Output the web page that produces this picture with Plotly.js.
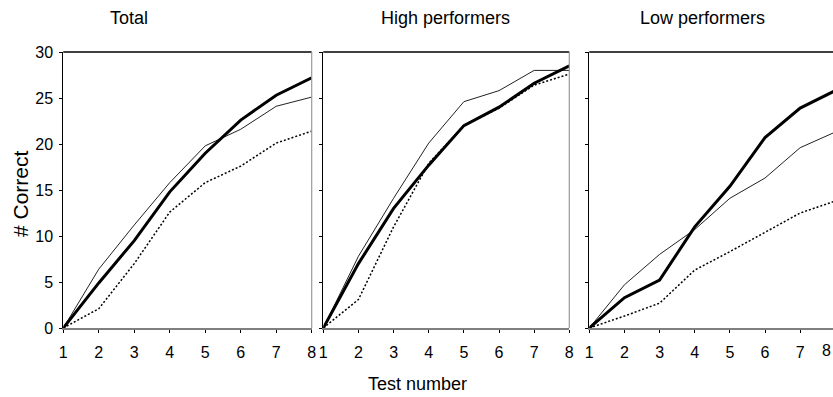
<!DOCTYPE html>
<html>
<head>
<meta charset="utf-8">
<script src="https://cdn.plot.ly/plotly-3.0.1.min.js"></script>
<style>html,body{margin:0;padding:0;background:#fff;}#chart{width:833px;height:397px;}</style>
</head>
<body>
<div id="chart"></div>
<script>
// Data
var testNumbers = [1, 2, 3, 4, 5, 6, 7, 8];
var tickLabels = ['1', '2', '3', '4', '5', '6', '7', '8'];
var yTicks = [0, 5, 10, 15, 20, 25, 30];
var panelTitles = ['Total', 'High performers', 'Low performers'];

var totalThick = [0, 4.9, 9.5, 14.8, 19.0, 22.6, 25.3, 27.2];
var totalThin  = [0, 6.4, 11.2, 15.8, 19.8, 21.6, 24.1, 25.1];
var totalDot   = [0, 2.1, 7.0, 12.6, 15.8, 17.6, 20.1, 21.4];

var highThick = [0, 7.0, 13.0, 17.7, 22.0, 24.0, 26.6, 28.5];
var highThin  = [0, 7.8, 14.1, 20.1, 24.6, 25.8, 28.0, 28.0];
var highDot   = [0, 3.1, 11.0, 17.9, 22.0, 23.9, 26.4, 27.6];

var lowThick = [0, 3.3, 5.2, 11.0, 15.4, 20.7, 23.9, 25.8];
var lowThin  = [0, 4.7, 8.0, 10.7, 14.1, 16.3, 19.6, 21.3];
var lowDot   = [0, 1.3, 2.7, 6.3, 8.3, 10.4, 12.5, 13.8];

var panels = [
  {thick: totalThick, thin: totalThin, dot: totalDot, xa: 'x', ya: 'y'},
  {thick: highThick, thin: highThin, dot: highDot, xa: 'x2', ya: 'y2'},
  {thick: lowThick, thin: lowThin, dot: lowDot, xa: 'x3', ya: 'y3'}
];

var traces = [];
panels.forEach(function(p) {
  traces.push({x: testNumbers, y: p.dot, xaxis: p.xa, yaxis: p.ya, mode: 'lines',
    line: {color: '#000', width: 1.5, dash: '2px,2px'}, hoverinfo: 'none'});
  traces.push({x: testNumbers, y: p.thin, xaxis: p.xa, yaxis: p.ya, mode: 'lines',
    line: {color: '#222', width: 1}, hoverinfo: 'none'});
  traces.push({x: testNumbers, y: p.thick, xaxis: p.xa, yaxis: p.ya, mode: 'lines',
    line: {color: '#000', width: 3}, hoverinfo: 'none'});
});

var FONT = 'Liberation Sans, Arial, sans-serif';

function xAxis(domain, range, anchor) {
  return {
    anchor: anchor, domain: domain, range: range, tickvals: testNumbers, ticktext: tickLabels,
    showgrid: false, zeroline: false, showline: true, linecolor: '#7f7f7f', linewidth: 2,
    ticks: 'outside', ticklen: 3, tickcolor: '#000', tickwidth: 1, ticklabelstandoff: 6,
    tickfont: {family: FONT, size: 16, color: '#000'}, fixedrange: true
  };
}
function yAxis(anchor, showLabels) {
  return {
    anchor: anchor, domain: [0, 1], range: [0, 30], tickvals: yTicks,
    showticklabels: showLabels, showgrid: false, zeroline: false,
    showline: true, linecolor: '#000', linewidth: 1,
    ticks: 'outside', ticklen: 3, tickcolor: '#000', tickwidth: 1, ticklabelstandoff: 3,
    tickfont: {family: FONT, size: 16, color: '#000'}, fixedrange: true
  };
}

var L = 63, W = 770, T = 52, H = 276;
function px(p) { return (p - L) / W; }
function py(p) { return (T + H - p) / H; }

var d1 = [px(63.3), px(311.7)];
var d2 = [px(323.3), px(569.3)];
var d3 = [px(589.3), 1];
var x3max = 1 + (833 - 589.3) / ((569.3 - 323.3) / 7);

var shapes = [];
[['x', 'y'], ['x2', 'y2'], ['x3', 'y3']].forEach(function(a, i) {
  shapes.push({type: 'line', xref: a[0] + ' domain', yref: a[1] + ' domain',
    x0: 0, x1: 1, y0: 1, y1: 1, line: {color: '#000', width: 1.5}, layer: 'above'});
  if (i < 2) {
    shapes.push({type: 'line', xref: a[0] + ' domain', yref: a[1] + ' domain',
      x0: 1, x1: 1, y0: 0, y1: 1, line: {color: '#999', width: 1.2}, layer: 'above'});
  }
});

var annotations = [];
var titleX = [129, 445, 702];
panelTitles.forEach(function(t, i) {
  annotations.push({text: t, xref: 'paper', yref: 'paper', x: px(titleX[i]), y: py(18),
    xanchor: 'center', yanchor: 'middle', showarrow: false,
    font: {family: FONT, size: 18, color: '#000'}});
});
annotations.push({text: 'Test number', xref: 'paper', yref: 'paper', x: px(417), y: py(384),
  xanchor: 'center', yanchor: 'middle', showarrow: false,
  font: {family: FONT, size: 18, color: '#000'}});
annotations.push({text: '# Correct', xref: 'paper', yref: 'paper', x: px(20), y: py(194),
  xanchor: 'center', yanchor: 'middle', textangle: -90, showarrow: false,
  font: {family: FONT, size: 21, color: '#000'}});
// last tick label of the third panel, kept just inside the window edge
annotations.push({text: tickLabels[7], xref: 'paper', yref: 'paper', x: 1, y: py(350),
  xanchor: 'right', yanchor: 'middle', showarrow: false,
  font: {family: FONT, size: 16, color: '#000'}});

var layout = {
  width: 833, height: 397,
  margin: {l: L, r: 0, t: T, b: 397 - T - H, pad: 0},
  paper_bgcolor: '#fff', plot_bgcolor: '#fff',
  showlegend: false,
  xaxis: xAxis(d1, [1, 8], 'y'),
  xaxis2: xAxis(d2, [1, 8], 'y2'),
  xaxis3: xAxis(d3, [1, x3max], 'y3'),
  yaxis: yAxis('x', true),
  yaxis2: yAxis('x2', false),
  yaxis3: yAxis('x3', false),
  shapes: shapes,
  annotations: annotations
};

Plotly.newPlot('chart', traces, layout, {displayModeBar: false, staticPlot: true});
</script>
</body>
</html>
